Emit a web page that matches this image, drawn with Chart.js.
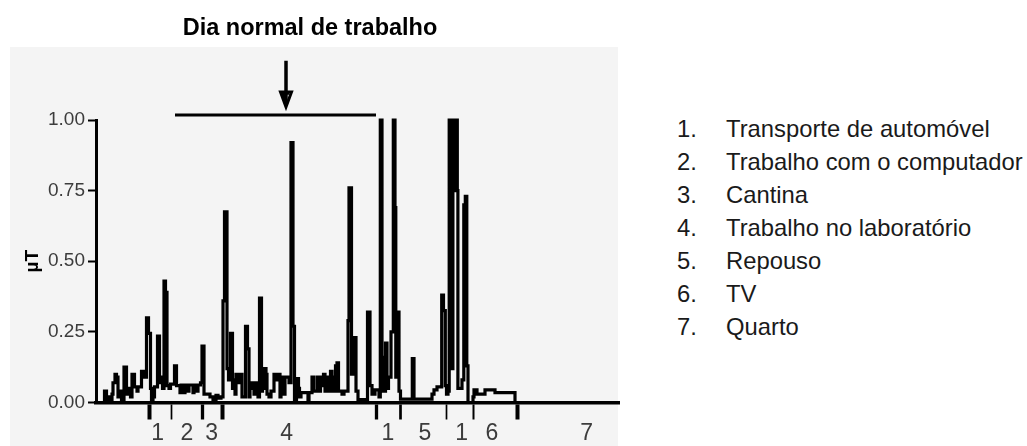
<!DOCTYPE html>
<html>
<head>
<meta charset="utf-8">
<script src="https://cdn.jsdelivr.net/npm/chart.js@4.4.1/dist/chart.umd.min.js"></script>
<style>
  html, body { margin: 0; padding: 0; background: #ffffff; }
  #wrap { position: relative; width: 1027px; height: 446px; overflow: hidden; }
  #c { position: absolute; left: 0; top: 0; }
  .row { position: absolute; height: 33px; line-height: 33px; font-family: "Liberation Sans", Arial, sans-serif; font-size: 23.8px; color: #1a1a1a; white-space: nowrap; }
  .num { left: 677px; }
  .txt { left: 726px; }
</style>
</head>
<body>
<div id="wrap">
  <canvas id="c" width="620" height="446"></canvas>
  <div id="legend"></div>
</div>
<script>
// ---- data (time units along the recording, µT values) ----
const timePoints = [
  0, 8.5, 10.5, 12, 14, 16, 17, 19, 20.5, 22, 24, 25.5, 28, 30.5, 33, 34.5, 36, 38.5, 41, 42,
  45.5, 48.5, 50.5, 52.5, 54.5, 55.5, 57, 58.5, 61.5, 63.5, 65, 66.5, 68, 69.5, 71, 73, 74.5, 78.5, 80.5, 84,
  85, 88, 89, 92, 93, 97, 98, 101, 102, 104.5, 106, 108, 114, 117, 120, 122, 125, 127, 128.5, 131,
  132.5, 134.5, 136.5, 137.5, 139, 140, 142, 143.5, 146, 149.5, 151.5, 153, 154, 156, 158, 159, 162, 163.5, 165.5, 166.5,
  168, 170, 171, 173, 175, 178, 180, 181, 184, 185, 188, 189, 193, 195, 197, 198.5, 200.5, 202.5, 203.5, 205,
  212, 213, 216, 217.5, 221, 222.5, 224.5, 226, 227.5, 229, 231, 232.5, 234.5, 236, 237.5, 239.5, 241, 242.5, 246, 248,
  252, 253, 255.5, 257.5, 260, 262, 271.5, 274, 276, 279, 283, 284.3, 286, 287.5, 289.5, 291, 292.5, 295, 297.3, 299,
  299.8, 300.8, 303, 304.5, 316.3, 318, 336, 338, 341, 345.7, 347.5, 349.3, 350.5, 352, 353.2, 354.2, 354.8, 355.7, 356.3, 356.9,
  357.9, 358.6, 359.6, 360.3, 361.3, 361.9, 366, 367.8, 369.3, 370.8, 372, 377, 378, 381, 389, 399, 419, 524
];
const fieldValues = [
  0, 0.04, 0.01, 0.02, 0.01, 0.03, 0.07, 0.10, 0.09, 0.02, 0.04, 0.01, 0.125, 0.03, 0.05, 0.02, 0.10, 0.055, 0.04, 0.055,
  0.11, 0.09, 0.30, 0.245, 0.05, 0.01, 0.02, 0.055, 0.235, 0.07, 0.09, 0.05, 0.43, 0.39, 0.06, 0.05, 0.065, 0.13, 0.06, 0.035,
  0.062, 0.035, 0.062, 0.04, 0.062, 0.035, 0.062, 0.04, 0.062, 0.07, 0.20, 0.03, 0.02, 0.01, 0.025, 0.015, 0.02, 0.36, 0.675, 0.12,
  0.08, 0.245, 0.05, 0.08, 0.03, 0.10, 0.07, 0.10, 0.02, 0.27, 0.19, 0.02, 0.05, 0.07, 0.03, 0.07, 0.02, 0.37, 0.04, 0.05,
  0.12, 0.10, 0.03, 0.02, 0.04, 0.10, 0.08, 0.10, 0.02, 0.09, 0.03, 0.09, 0.07, 0.92, 0.27, 0.01, 0.085, 0.05, 0.02, 0.035,
  0.01, 0.035, 0.09, 0.04, 0.09, 0.04, 0.09, 0.06, 0.10, 0.04, 0.09, 0.04, 0.11, 0.09, 0.04, 0.13, 0.14, 0.04, 0.03, 0.04,
  0.29, 0.76, 0.10, 0.23, 0.04, 0.01, 0.32, 0.06, 0.03, 0.045, 0.02, 1.0, 0.16, 0.04, 0.21, 0.05, 0.09, 0.25, 1.0, 0.69,
  0.09, 0.32, 0.04, 0.012, 0.155, 0.012, 0.03, 0.045, 0.055, 0.38, 0.325, 0.06, 0.03, 0.04, 1.0, 0.75, 1.0, 0.75, 0.12, 1.0,
  0.75, 1.0, 0.75, 1.0, 0.75, 0.05, 0.08, 0.70, 0.73, 0.13, 0.0, 0.02, 0.045, 0.03, 0.045, 0.035, 0.0, 0.0
];
// activity boundaries (tick marks) and activity labels
const boundaryTicks = [53, 75.7, 106, 126.7, 280.7, 304, 350.7, 377, 421.7];
const boundaryWidths = [4, 1.7, 3.3, 4, 3.3, 2.7, 1.7, 2, 4];
const labelPositions = [61.7, 91, 115.7, 190.7, 292, 329, 365.7, 396, 490.7];
const activityLabels = ["1", "2", "3", "4", "1", "5", "1", "6", "7"];
const yTickValues = [0, 0.25, 0.5, 0.75, 1.0];
// highlighted period (bracket) and arrow pointing at it
const bracketX = [79, 280];
const bracketY = [1.018, 1.018];
const arrowShaftX = [190, 190];
const arrowShaftY = [1.21, 1.06];
const arrowHeadX = [184.5, 190, 195.5, 184.5, 190, 187, 193];
const arrowHeadY = [1.099, 1.046, 1.099, 1.099, 1.046, 1.095, 1.095];
// legend
const legendItems = [
  "Transporte de automóvel",
  "Trabalho com o computador",
  "Cantina",
  "Trabalho no laboratório",
  "Repouso",
  "TV",
  "Quarto"
];
const chartTitle = "Dia normal de trabalho";
const yTitle = "µT";

// ---- legend (HTML text) ----
const legendEl = document.getElementById('legend');
legendItems.forEach((txt, i) => {
  const top = 111.5 + i * 33;
  const n = document.createElement('div');
  n.className = 'row num'; n.style.top = top + 'px'; n.textContent = (i + 1) + '.';
  const t = document.createElement('div');
  t.className = 'row txt'; t.style.top = top + 'px'; t.textContent = txt;
  legendEl.appendChild(n); legendEl.appendChild(t);
});

// ---- chart ----
const FONT = "'Liberation Sans', Arial, sans-serif";
const toXY = (xs, ys) => xs.map((x, i) => ({ x: x, y: ys[i] }));
const allXTicks = boundaryTicks.concat(labelPositions).sort((a, b) => a - b);

const bgPlugin = {
  id: 'panelBg',
  beforeDraw(chart) {
    const ctx = chart.ctx;
    ctx.save();
    ctx.fillStyle = '#f4f4f4';
    ctx.fillRect(10, 47, 608, 399);
    ctx.restore();
  }
};

const plainLine = (data, w) => ({
  data: data,
  borderColor: '#000',
  borderWidth: w,
  pointRadius: 0,
  fill: false,
  clip: false,
  borderJoinStyle: 'miter'
});

new Chart(document.getElementById('c'), {
  type: 'line',
  data: {
    datasets: [
      Object.assign(plainLine(toXY(timePoints, fieldValues), 3.2), { stepped: true }),
      plainLine(toXY(bracketX, bracketY), 3),
      plainLine(toXY(arrowShaftX, arrowShaftY), 3.5),
      plainLine(toXY(arrowHeadX, arrowHeadY), 3)
    ]
  },
  options: {
    responsive: false,
    animation: false,
    events: [],
    layout: { autoPadding: false, padding: { left: 0, right: 0, top: 0, bottom: 0 } },
    plugins: {
      legend: { display: false },
      tooltip: { enabled: false },
      title: {
        display: true,
        text: chartTitle,
        color: '#000',
        font: { family: FONT, size: 23.5, weight: 'bold' },
        padding: { top: 14, bottom: 77.8 }
      }
    },
    scales: {
      x: {
        type: 'linear',
        min: 0,
        max: 524,
        afterFit(scale) { scale.height = 43.5; scale.paddingLeft = 0; scale.paddingRight = 0; },
        afterBuildTicks(scale) { scale.ticks = allXTicks.map(v => ({ value: v })); },
        ticks: {
          autoSkip: false,
          maxRotation: 0,
          padding: 0,
          color: '#3c3c3c',
          font: { family: FONT, size: 23 },
          callback(value) {
            const i = labelPositions.indexOf(value);
            return i >= 0 ? activityLabels[i] : '';
          }
        },
        grid: {
          display: true,
          drawOnChartArea: false,
          drawTicks: true,
          tickLength: 17,
          tickColor(ctx) {
            return ctx.tick && boundaryTicks.indexOf(ctx.tick.value) >= 0 ? '#000' : 'rgba(0,0,0,0)';
          },
          tickWidth(ctx) {
            const i = ctx.tick ? boundaryTicks.indexOf(ctx.tick.value) : -1;
            return i >= 0 ? boundaryWidths[i] : 0;
          }
        },
        border: { display: true, color: '#000', width: 3.5 }
      },
      y: {
        type: 'linear',
        min: 0,
        max: 1,
        afterFit(scale) { scale.width = 96; },
        afterBuildTicks(scale) { scale.ticks = yTickValues.map(v => ({ value: v })); },
        ticks: {
          padding: 3,
          color: '#3c3c3c',
          font: { family: FONT, size: 19 },
          callback(value) { return Number(value).toFixed(2); }
        },
        grid: {
          display: true,
          drawOnChartArea: false,
          drawTicks: true,
          tickLength: 8,
          tickWidth: 2,
          tickColor: '#000'
        },
        border: { display: true, color: '#000', width: 3 },
        title: {
          display: true,
          text: yTitle,
          color: '#000',
          font: { family: FONT, size: 19, weight: 'bold' },
          padding: { top: 21.6, bottom: 0 }
        }
      }
    }
  },
  plugins: [bgPlugin]
});
</script>
</body>
</html>
